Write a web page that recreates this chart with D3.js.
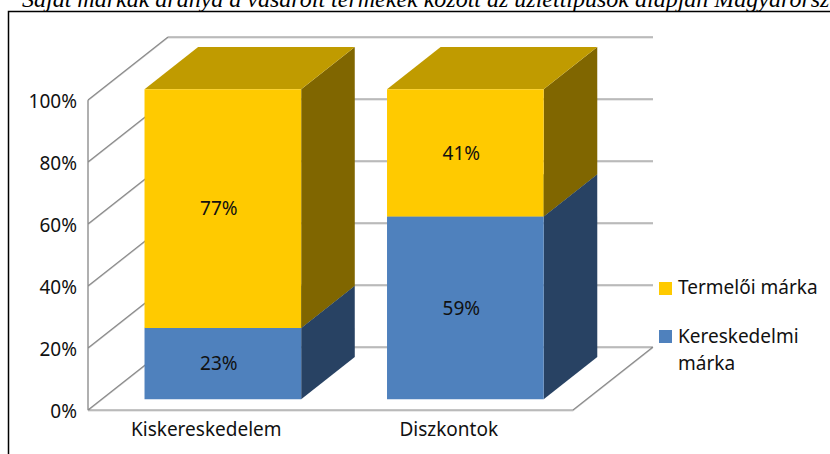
<!DOCTYPE html>
<html>
<head>
<meta charset="utf-8">
<script src="https://cdn.jsdelivr.net/npm/d3@7"></script>
<style>
  body { margin: 0; background: #fff; }
  svg { display: block; }
  .lbl { font-family: "Noto Sans", "Open Sans", sans-serif; font-size: 19px; fill: #111; }
</style>
</head>
<body>
<div class="chart"></div>
<script>
"use strict";

// Data
let categories = ["Kiskereskedelem", "Diszkontok"];
let series_names = ["Kereskedelmi márka", "Termelői márka"];
let kereskedelmi = [23, 59];
let termeloi = [77, 41];
let y_ticks = [0, 20, 40, 60, 80, 100];

// Appearance
let W = 830, H = 454;
let floor_y = 410, top_y = 100;
let left_x = 88, right_x = 573;
let DX = 80, DY = -63;        // depth vector of the 3d box
let t_front = 0.17, t_back = 0.84;   // bar depth inside the box

let colors = {
    "Kereskedelmi márka": {front: "#4F81BD", side: "#284263", top: "#3B618E"},
    "Termelői márka": {front: "#FFCA00", side: "#806600", top: "#C09B00"}
};

let svg = d3.select(".chart").append("svg")
    .attr("width", W).attr("height", H);

// cut off caption + frame from the source document
svg.append("text")
    .attr("x", 22).attr("y", 7)
    .style("font-family", "'Liberation Serif', serif")
    .style("font-style", "italic")
    .style("font-size", "24px")
    .text("Saját márkák aránya a vásárolt termékek között az üzlettípusok alapján Magyarországon");

svg.append("path")
    .attr("d", "M8.5,454 L8.5,11.5 L830,11.5")
    .attr("fill", "none").attr("stroke", "#000").attr("stroke-width", 1.5);

let y = d3.scaleLinear().domain([0, 100]).range([floor_y, top_y]);
let x = d3.scaleBand().domain(categories).range([left_x, right_x])
    .paddingInner(0.354).paddingOuter(0.177);

function proj(px, py, t) { return [px + DX * t, py + DY * t]; }
function poly(pts) { return "M" + pts.map(function(p) { return p[0] + "," + p[1]; }).join("L") + "Z"; }
function seg(p, q) { return "M" + p[0] + "," + p[1] + "L" + q[0] + "," + q[1]; }

// walls / gridlines
let grid_d = [];
y_ticks.forEach(function(v) {
    grid_d.push(seg(proj(left_x, y(v), 0), proj(left_x, y(v), 1)));
    grid_d.push(seg(proj(left_x, y(v), 1), proj(right_x, y(v), 1)));
});
grid_d.push(seg([left_x, y(0)], [right_x, y(0)]));
grid_d.push(seg([right_x, y(0)], proj(right_x, y(0), 1)));
grid_d.push(seg([left_x, y(0)], [left_x, y(100)]));

let grid = svg.append("g").attr("fill", "none");
grid.append("path").attr("d", grid_d.join(""))
    .attr("transform", "translate(0,1)")
    .attr("stroke", "#d4d4d4").attr("stroke-width", 1);
grid.append("path").attr("d", grid_d.join(""))
    .attr("stroke", "#8a8a8a").attr("stroke-width", 1.2);

// y tick labels
svg.append("g").selectAll("text")
    .data(y_ticks).enter().append("text")
    .attr("class", "lbl")
    .attr("x", 77)
    .attr("y", function(d) { return y(d) + 8; })
    .attr("text-anchor", "end")
    .text(function(d) { return d + "%"; });

// stacked bars
let rows = categories.map(function(c, i) {
    return {cat: c, "Kereskedelmi márka": kereskedelmi[i], "Termelői márka": termeloi[i]};
});
let stacked = d3.stack().keys(series_names)(rows);

let bars = svg.append("g");
categories.forEach(function(cat, ci) {
    let x0 = x(cat), x1 = x(cat) + x.bandwidth();
    stacked.forEach(function(layer) {
        let key = layer.key;
        let v0 = layer[ci][0], v1 = layer[ci][1];
        let c = colors[key];
        // side
        bars.append("path").attr("fill", c.side)
            .attr("d", poly([proj(x1, y(v0), t_front), proj(x1, y(v0), t_back),
                             proj(x1, y(v1), t_back), proj(x1, y(v1), t_front)]));
        // top
        bars.append("path").attr("fill", c.top)
            .attr("d", poly([proj(x0, y(v1), t_front), proj(x1, y(v1), t_front),
                             proj(x1, y(v1), t_back), proj(x0, y(v1), t_back)]));
        // front
        bars.append("path").attr("fill", c.front)
            .attr("d", poly([proj(x0, y(v1), t_front), proj(x1, y(v1), t_front),
                             proj(x1, y(v0), t_front), proj(x0, y(v0), t_front)]));
        // value label
        let p = proj((x0 + x1) / 2, (y(v0) + y(v1)) / 2, t_front);
        bars.append("text").attr("class", "lbl")
            .attr("x", p[0] - 4).attr("y", p[1])
            .attr("dy", "0.36em")
            .attr("text-anchor", "middle")
            .text((v1 - v0) + "%");
    });
});

// category labels
svg.append("g").selectAll("text")
    .data(categories).enter().append("text")
    .attr("class", "lbl")
    .attr("x", function(d) { return x(d) + x.bandwidth() / 2 - 3; })
    .attr("y", 436)
    .attr("text-anchor", "middle")
    .text(function(d) { return d; });

// legend (top entry = top of stack)
let legend = svg.append("g");
legend.append("rect").attr("x", 659).attr("y", 282).attr("width", 13).attr("height", 13)
    .attr("fill", colors["Termelői márka"].front);
legend.append("text").attr("class", "lbl").attr("x", 678).attr("y", 294).text("Termelői márka");
legend.append("rect").attr("x", 659).attr("y", 330).attr("width", 13).attr("height", 13)
    .attr("fill", colors["Kereskedelmi márka"].front);
let lt = legend.append("text").attr("class", "lbl").attr("x", 678).attr("y", 343);
lt.append("tspan").attr("x", 678).text("Kereskedelmi");
lt.append("tspan").attr("x", 678).attr("dy", 27).text("márka");
</script>
</body>
</html>
